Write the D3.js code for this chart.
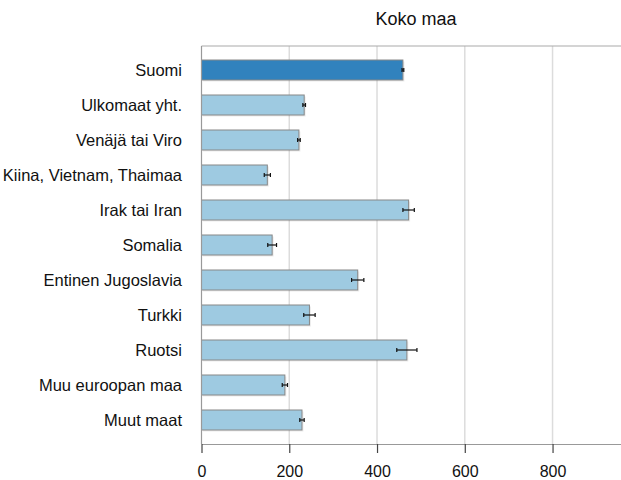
<!DOCTYPE html>
<html>
<head>
<meta charset="utf-8">
<script src="https://cdn.jsdelivr.net/npm/d3@7"></script>
<style>
  body { margin: 0; background: #fff; }
  svg { font-family: "Liberation Sans", Arial, Helvetica, sans-serif; }
</style>
</head>
<body>
<div id="chart"></div>
<script>
const categories = ["Suomi", "Ulkomaat yht.", "Venäjä tai Viro", "Kiina, Vietnam, Thaimaa",
  "Irak tai Iran", "Somalia", "Entinen Jugoslavia", "Turkki", "Ruotsi",
  "Muu euroopan maa", "Muut maat"];
const values = [459, 234, 222, 150, 472, 161, 356, 246, 468, 190, 229];
const errors = [2, 3, 3, 7, 13, 10, 14, 13, 23, 6, 5];
const xTicks = [0, 200, 400, 600, 800];
const title = "Koko maa";

const width = 621, height = 480;
const plotLeft = 201.5, plotRight = 621, plotTop = 46, plotBottom = 444;

const svg = d3.select("#chart").append("svg")
  .attr("width", width)
  .attr("height", height);

const x = d3.scaleLinear().domain([0, 956]).range([plotLeft, plotRight]);
const y = d3.scaleBand().domain(categories).range([plotTop, plotBottom])
  .paddingInner(0.4286).paddingOuter(0.4);

const data = categories.map((c, i) => ({ name: c, value: values[i], err: errors[i], idx: i }));

// grid lines
svg.append("g").selectAll("line")
  .data(xTicks.filter(t => t > 0))
  .enter().append("line")
  .attr("x1", d => x(d)).attr("x2", d => x(d))
  .attr("y1", plotTop).attr("y2", plotBottom)
  .attr("stroke", "#dcdcdc").attr("stroke-width", 1.5);

// top frame line
svg.append("line")
  .attr("x1", plotLeft).attr("x2", plotRight)
  .attr("y1", plotTop).attr("y2", plotTop)
  .attr("stroke", "#aaa").attr("stroke-width", 1.2);

// bar shadows
svg.append("g").selectAll("rect")
  .data(data)
  .enter().append("rect")
  .attr("x", plotLeft + 1.5)
  .attr("y", d => y(d.name) + 1.5)
  .attr("width", d => x(d.value) - plotLeft)
  .attr("height", y.bandwidth())
  .attr("fill", "#000").attr("opacity", 0.08);

// bars
svg.append("g").selectAll("rect")
  .data(data)
  .enter().append("rect")
  .attr("x", plotLeft)
  .attr("y", d => y(d.name))
  .attr("width", d => x(d.value) - plotLeft)
  .attr("height", y.bandwidth())
  .attr("fill", d => d.idx === 0 ? "#3182bd" : "#9ecae1")
  .attr("stroke", "#888").attr("stroke-width", 1);

// error bars
const eb = svg.append("g").selectAll("g")
  .data(data)
  .enter().append("g")
  .attr("stroke", "#111").attr("stroke-width", 1.2);
eb.append("line")
  .attr("x1", d => x(d.value - d.err)).attr("x2", d => x(d.value + d.err))
  .attr("y1", d => y(d.name) + y.bandwidth() / 2)
  .attr("y2", d => y(d.name) + y.bandwidth() / 2);
eb.append("line")
  .attr("x1", d => x(d.value - d.err)).attr("x2", d => x(d.value - d.err))
  .attr("y1", d => y(d.name) + y.bandwidth() / 2 - 2)
  .attr("y2", d => y(d.name) + y.bandwidth() / 2 + 2);
eb.append("line")
  .attr("x1", d => x(d.value + d.err)).attr("x2", d => x(d.value + d.err))
  .attr("y1", d => y(d.name) + y.bandwidth() / 2 - 2)
  .attr("y2", d => y(d.name) + y.bandwidth() / 2 + 2);

// left axis line
svg.append("line")
  .attr("x1", plotLeft).attr("x2", plotLeft)
  .attr("y1", plotTop).attr("y2", plotBottom)
  .attr("stroke", "#999").attr("stroke-width", 1.2);

// category labels
svg.append("g").selectAll("text")
  .data(data)
  .enter().append("text")
  .attr("x", 182)
  .attr("y", d => y(d.name) + y.bandwidth() / 2)
  .attr("dy", "0.36em")
  .attr("text-anchor", "end")
  .attr("font-size", "16.5px")
  .attr("fill", "#111")
  .text(d => d.name);

// bottom axis
const xAxis = svg.append("g")
  .attr("transform", `translate(0,${plotBottom})`)
  .call(d3.axisBottom(x).tickValues(xTicks).tickSize(9).tickPadding(13).tickSizeOuter(0));
xAxis.select(".domain").attr("stroke", "#999").attr("stroke-width", 1.2);
xAxis.selectAll(".tick line").attr("stroke", "#444").attr("stroke-width", 1.2);
xAxis.selectAll(".tick text")
  .attr("font-size", "16px")
  .attr("font-family", "'Liberation Sans', Arial, sans-serif")
  .attr("fill", "#111");

// title
svg.append("text")
  .attr("x", 416).attr("y", 25)
  .attr("text-anchor", "middle")
  .attr("font-size", "18px")
  .attr("fill", "#111")
  .text(title);
</script>
</body>
</html>
